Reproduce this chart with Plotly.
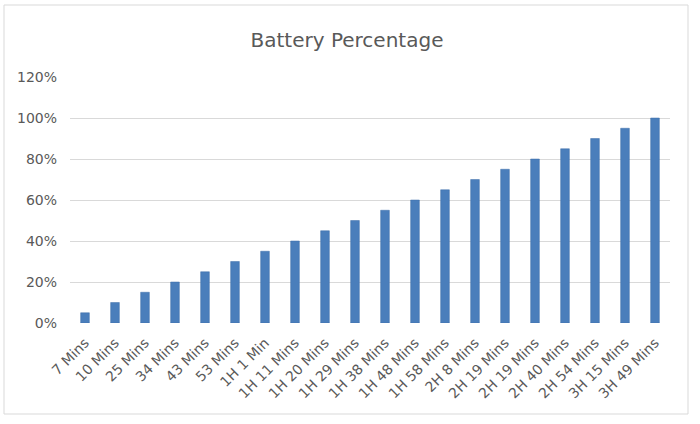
import plotly.graph_objects as go

categories = ["7 Mins", "10 Mins", "25 Mins", "34 Mins", "43 Mins", "53 Mins",
              "1H 1 Min", "1H 11 Mins", "1H 20 Mins", "1H 29 Mins", "1H 38 Mins",
              "1H 48 Mins", "1H 58 Mins", "2H 8 Mins", "2H 19 Mins", "2H 19 Mins",
              "2H 40 Mins", "2H 54 Mins", "3H 15 Mins", "3H 49 Mins"]
battery = [0.05, 0.10, 0.15, 0.20, 0.25, 0.30, 0.35, 0.40, 0.45, 0.50,
           0.55, 0.60, 0.65, 0.70, 0.75, 0.80, 0.85, 0.90, 0.95, 1.00]
y_ticks = [0, 0.2, 0.4, 0.6, 0.8, 1.0, 1.2]

positions = list(range(len(categories)))

fig = go.Figure()
fig.add_trace(go.Bar(
    x=positions, y=battery, width=0.29,
    marker=dict(color="#4a7ebb", line=dict(color="#3f6fa8", width=0.5)),
))

L, R, T, B = 70, 30, 77, 101
W, H = 700, 424
pw, ph = W - L - R, H - T - B

fig.update_layout(
    width=W, height=H,
    margin=dict(l=L, r=R, t=T, b=B, autoexpand=False),
    paper_bgcolor="white", plot_bgcolor="white",
    showlegend=False,
    title=dict(text="Battery Percentage", x=(347) / W, xanchor="center",
               y=1 - 40 / H, yanchor="middle",
               font=dict(family="DejaVu Sans", size=20, color="#595959")),
    font=dict(family="DejaVu Sans", size=14, color="#595959"),
    xaxis=dict(tickmode="array", tickvals=positions, ticktext=categories,
               tickangle=-45, range=[-0.5, len(categories) - 0.5],
               showgrid=False, zeroline=False, showline=False, ticks="",
               ticklabelstandoff=8, automargin=False),
    yaxis=dict(range=[0, 1.2], tickvals=y_ticks, tickformat=".0%",
               showgrid=True, gridcolor="#d9d9d9", gridwidth=1,
               zeroline=False, showline=False, ticks="",
               ticklabelstandoff=12, automargin=False),
    shapes=[dict(type="rect", xref="paper", yref="paper",
                 x0=(4 - L) / pw, x1=(688 - L) / pw,
                 y0=(H - B - 414) / ph, y1=(H - B - 5) / ph,
                 line=dict(color="#d9d9d9", width=1), layer="below")],
)

fig.write_html("out.html", config={"displayModeBar": False},
               post_script="document.body.style.margin='0';")
